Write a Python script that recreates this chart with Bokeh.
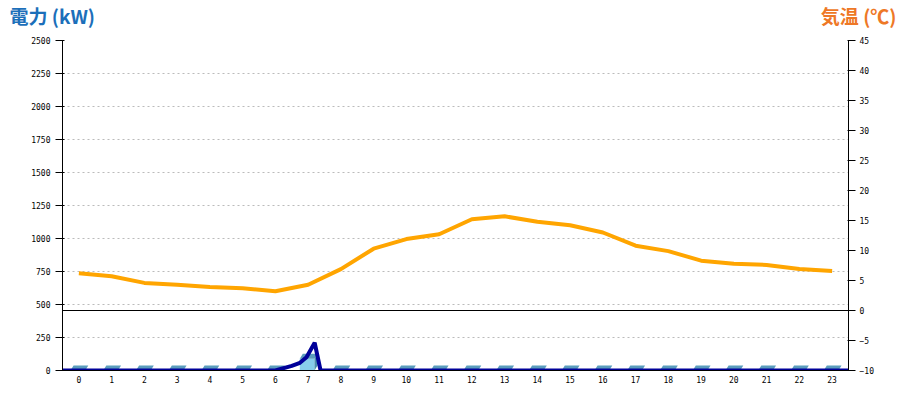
from bokeh.plotting import figure
from bokeh.models import LinearAxis, Range1d, FixedTicker, Span, Label
from bokeh.layouts import column
from bokeh.embed import file_html
from bokeh.resources import INLINE

# ---- data ----
hours = list(range(24))
hour_labels = [str(h) for h in hours]
temp_c = [6.2, 5.7, 4.6, 4.3, 3.9, 3.7, 3.2, 4.3, 6.9, 10.3, 11.9, 12.7,
          15.2, 15.7, 14.8, 14.2, 13.0, 10.8, 9.9, 8.3, 7.8, 7.6, 6.9, 6.6]
bar_kw = [0, 0, 0, 0, 0, 0, 0, 89, 0, 0, 0, 0,
          0, 0, 0, 0, 0, 0, 0, 0, 0, 0, 0, 0]
power_t = [0.0, 6.5, 7.0, 7.25, 7.45, 7.7, 7.88, 24.0]
power_kw = [0, 0, 35, 58, 100, 210, 0, 0]
kw_ticks = [0, 250, 500, 750, 1000, 1250, 1500, 1750, 2000, 2250, 2500]
temp_ticks = [-10, -5, 0, 5, 10, 15, 20, 25, 30, 35, 40, 45]
left_title = "電力 (kW)"
right_title = "気温 (℃)"

TICK_FONT = "DejaVu Sans Mono"
TITLE_FONT = "Noto Sans CJK JP"

# ---- title strip ----
t = figure(width=898, height=35, x_range=Range1d(0, 1), y_range=Range1d(0, 1),
           output_backend="svg", toolbar_location=None,
           x_axis_type=None, y_axis_type=None,
           min_border_left=0, min_border_right=0, min_border_top=0, min_border_bottom=0)
t.outline_line_color = None
t.grid.visible = False
if "frame_align" in t.properties():
    t.frame_align = False
t.add_layout(Label(x=9, y=20, x_units="screen", y_units="screen",
                   text=left_title, text_font=TITLE_FONT,
                   text_font_style="bold", text_font_size="19px",
                   text_color="#1c6fba", text_baseline="alphabetic"))
t.add_layout(Label(x=896, y=20, x_units="screen", y_units="screen",
                   text=right_title, text_font=TITLE_FONT,
                   text_font_style="bold", text_font_size="19px",
                   text_color="#ee7826", text_align="right", text_baseline="alphabetic"))

# ---- main chart ----
p = figure(width=898, height=363, x_range=Range1d(0, 24), y_range=Range1d(0, 2500),
           output_backend="svg", toolbar_location=None,
           min_border_left=62, min_border_right=50, min_border_top=5, min_border_bottom=28)
p.outline_line_color = None
p.background_fill_color = "white"
if "frame_align" in p.properties():
    p.frame_align = False

p.extra_y_ranges = {"temp": Range1d(-10, 45)}

# grid
p.xgrid.visible = False
p.ygrid.ticker = FixedTicker(ticks=kw_ticks)
p.ygrid.grid_line_color = "#bbbbbb"
p.ygrid.grid_line_dash = "2 3"
p.ygrid.grid_line_width = 1

# x axis
xa = p.xaxis[0]
xa.ticker = FixedTicker(ticks=[h + 0.5 for h in hours])
xa.major_label_overrides = {h + 0.5: lab for h, lab in zip(hours, hour_labels)}
xa.major_tick_out = 0
xa.major_tick_in = 0
xa.minor_tick_out = 0
xa.minor_tick_in = 0
xa.major_label_standoff = 5
xa.axis_line_color = "black"
xa.major_label_text_font = TICK_FONT
xa.major_label_text_font_size = "8px"
xa.major_label_text_color = "black"

# left axis
ya = p.yaxis[0]
ya.ticker = FixedTicker(ticks=kw_ticks)
ya.major_tick_out = 7
ya.major_tick_in = 2
ya.minor_tick_out = 0
ya.minor_tick_in = 0
ya.major_label_standoff = 5
ya.axis_line_color = "black"
ya.major_label_text_font = TICK_FONT
ya.major_label_text_font_size = "8px"
ya.major_label_text_color = "black"

# right axis
ra = LinearAxis(y_range_name="temp", ticker=FixedTicker(ticks=temp_ticks))
ra.major_tick_out = 7
ra.major_tick_in = 1
ra.minor_tick_out = 0
ra.minor_tick_in = 0
ra.major_label_standoff = 4
ra.axis_line_color = "black"
ra.major_label_text_font = TICK_FONT
ra.major_label_text_font_size = "8px"
ra.major_label_text_color = "black"
p.add_layout(ra, "right")

# 0 degC reference line
p.add_layout(Span(location=0, dimension="width", y_range_name="temp",
                  line_color="black", line_width=1))

# 3D-style bars
half = 0.225
dx = 0.092
dy = 38
centers = [h + 0.47 for h in hours]
lefts = [c - half for c in centers]
rights = [c + half for c in centers]
top_xs = [[l, r, r + dx, l + dx] for l, r in zip(lefts, rights)]
top_ys = [[v, v, v + dy, v + dy] for v in bar_kw]
side_xs = [[r, r + dx, r + dx, r] for r in rights]
side_ys = [[0, dy, v + dy, v] for v in bar_kw]
p.quad(left=lefts, right=rights, bottom=[0] * 24, top=bar_kw,
       fill_color="#87ceeb", line_color=None)
p.patches(side_xs, side_ys, fill_color="#4a8fae", line_color=None)
p.patches(top_xs, top_ys, fill_color="#5b9dbd", line_color=None)

# power line
p.line(power_t, power_kw, line_color="#000099", line_width=4)

# temperature line
p.line([h + 0.5 for h in hours], temp_c, y_range_name="temp",
       line_color="#ffa500", line_width=4)

layout = column(t, p, spacing=0)
open("out.html", "w").write(file_html(layout, INLINE))
